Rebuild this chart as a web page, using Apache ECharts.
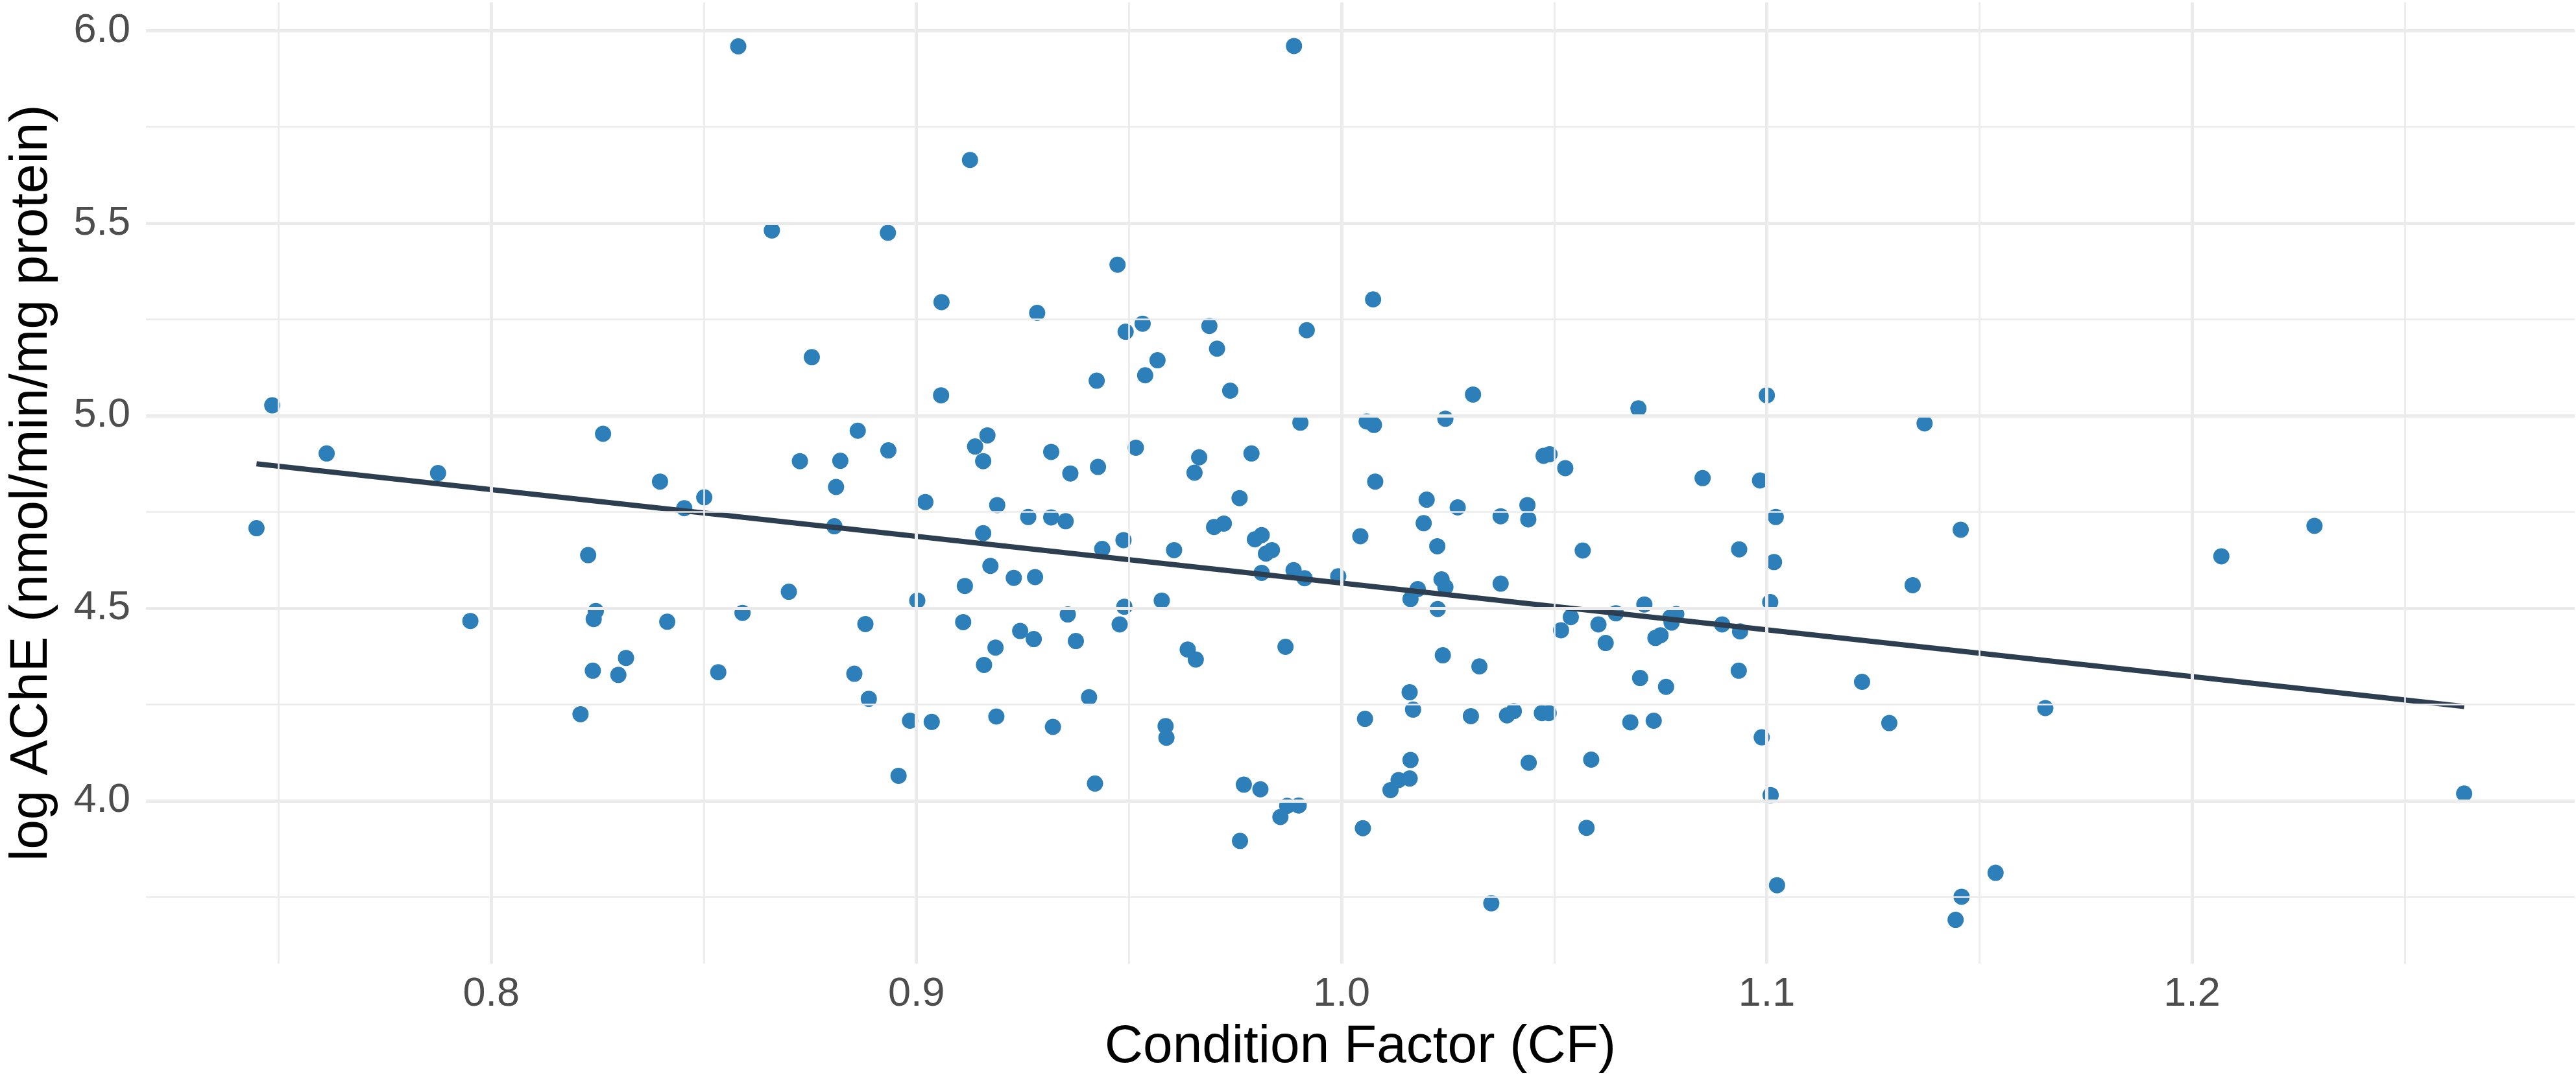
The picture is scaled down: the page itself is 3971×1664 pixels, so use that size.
<!DOCTYPE html>
<html>
<head>
<meta charset="utf-8">
<title>log AChE vs Condition Factor</title>
<script src="https://cdn.jsdelivr.net/npm/echarts@6.0.0/dist/echarts.min.js"></script>
<style>
  html, body { margin: 0; padding: 0; background: #fff; }
  #chart { width: 3971px; height: 1664px; }
</style>
</head>
<body>
<div id="chart"></div>
<script>
// condition factor (x) and log AChE (y)
const cf = [
  0.7485,0.7613,0.7875,0.8581,0.8660,0.8754,0.8263,0.8397,0.8726,0.8501,0.8454,0.7448,
  0.8228,0.8700,0.7951,0.8246,0.8241,0.8414,0.8591,0.8317,0.8239,0.8299,0.8534,0.8210,
  0.9888,0.9126,0.8933,0.9473,0.9059,0.9284,1.0074,0.9532,0.9492,0.9689,0.9918,0.9707,
  0.9567,0.9538,0.9424,0.9738,0.9058,0.9903,1.0059,1.0076,0.8862,0.9167,0.9138,0.8934,
  0.8821,0.9157,0.9317,0.9516,0.9665,0.9788,0.9427,
  0.9362,0.9654,1.0079,0.8811,0.9760,0.9021,0.9190,0.8807,0.9263,0.9317,0.9351,0.9157,
  0.9437,0.9487,0.9606,0.9700,0.9723,0.9796,0.9812,0.9822,0.9836,0.9812,0.9887,0.9913,
  0.9992,1.0044,0.9174,0.9229,0.9279,0.9114,0.9002,0.8880,0.9110,0.9244,0.9276,0.9186,
  0.9159,0.9356,0.9375,0.9489,0.9478,0.9577,0.9638,0.9657,0.9868,0.8854,0.8888,0.8985,
  0.9036,0.9188,0.9321,0.9406,0.9586,0.9588,0.8958,0.9420,0.9770,0.9809,0.9872,0.9899,
  0.9856,0.9761,1.0050,1.0055,1.0115,1.0134,
  1.0309,1.0244,1.0698,1.1000,1.1371,1.0475,1.0489,1.0526,
  1.0849,1.0984,1.0200,1.0273,1.0193,1.0374,1.0437,1.0439,1.0225,1.0567,1.0935,1.1021,
  1.1017,1.1456,1.1343,1.0235,1.0244,1.0179,1.0162,1.0374,1.0226,1.1008,1.0539,1.0516,
  1.0604,1.0645,1.0621,1.0712,1.0787,1.0776,1.0773,1.0738,1.0750,1.0895,1.0937,1.0238,
  1.0324,1.0702,1.0763,1.0934,1.1224,1.0160,1.0168,1.0304,1.0389,1.0405,1.0471,1.0487,
  1.0679,1.0734,1.0988,1.1288,1.0162,1.0440,1.0587,1.0160,1.1009,1.0576,1.1024,1.0352,
  1.1458,1.1444,1.1538,
  1.1655,1.2069,1.2288,1.2640
]
const ache = [
  5.027,4.902,4.851,5.959,5.481,5.152,4.953,4.829,4.882,4.788,4.760,4.708,
  4.638,4.543,4.467,4.493,4.472,4.465,4.488,4.371,4.338,4.327,4.334,4.225,
  5.960,5.664,5.475,5.392,5.295,5.267,5.302,5.239,5.218,5.233,5.222,5.174,
  5.144,5.105,5.091,5.065,5.053,4.982,4.985,4.976,4.961,4.949,4.920,4.910,
  4.883,4.882,4.906,4.917,4.892,4.902,4.867,
  4.850,4.852,4.829,4.815,4.786,4.776,4.768,4.713,4.737,4.736,4.726,4.695,
  4.654,4.677,4.651,4.711,4.720,4.679,4.690,4.642,4.651,4.592,4.599,4.578,
  4.583,4.687,4.610,4.579,4.581,4.558,4.520,4.459,4.464,4.441,4.420,4.398,
  4.353,4.484,4.415,4.504,4.458,4.520,4.393,4.367,4.400,4.330,4.265,4.208,
  4.205,4.219,4.192,4.269,4.194,4.164,4.065,4.045,4.042,4.030,3.987,3.988,
  3.958,3.896,3.929,4.213,4.028,4.054,
  5.055,4.992,5.019,5.053,4.980,4.896,4.900,4.864,
  4.838,4.832,4.782,4.762,4.721,4.739,4.768,4.731,4.661,4.650,4.653,4.737,
  4.620,4.704,4.560,4.575,4.555,4.550,4.524,4.564,4.498,4.516,4.477,4.443,
  4.458,4.487,4.410,4.510,4.485,4.463,4.476,4.423,4.430,4.458,4.440,4.378,
  4.349,4.319,4.296,4.338,4.309,4.282,4.237,4.220,4.222,4.233,4.228,4.228,
  4.204,4.208,4.165,4.202,4.106,4.099,4.107,4.058,4.015,3.930,3.781,3.734,
  3.751,3.691,3.813,
  4.241,4.635,4.714,4.019
]

// fitted line ends
const fitX = [0.7448, 1.2640]
const fitY = [4.875, 4.245]

// ticks and grid lines
const xLabels = [0.8, 0.9, 1.0, 1.1, 1.2]
const xMinor = [0.75, 0.85, 0.95, 1.05, 1.15, 1.25]
const yLabels = [4.0, 4.5, 5.0, 5.5, 6.0]
const yMinor = [3.75, 4.25, 4.75, 5.25, 5.75]

const FONT = '"Liberation Sans", Arial, Helvetica, sans-serif'
const GRID = '#EBEBEB'

const points = cf.map((x, i) => [x, ache[i]])
const fit = fitX.map((x, i) => [x, fitY[i]])

const gridLines = []
for (const v of xLabels) gridLines.push({xAxis: v, lineStyle: {width: 5}})
for (const v of xMinor) gridLines.push({xAxis: v, lineStyle: {width: 2.6}})
for (const v of yLabels) gridLines.push({yAxis: v, lineStyle: {width: 5}})
for (const v of yMinor) gridLines.push({yAxis: v, lineStyle: {width: 2.6}})

const chart = echarts.init(document.getElementById('chart'))
chart.setOption({
  animation: false,
  backgroundColor: '#fff',
  grid: {left: 209, right: 2, top: 3.5, bottom: 178, containLabel: false},
  xAxis: {
    type: 'value', min: 0.7188, max: 1.2900,
    name: 'Condition Factor (CF)', nameLocation: 'middle', nameGap: 129,
    nameTextStyle: {fontFamily: FONT, fontSize: 82, color: '#000', verticalAlign: 'middle', align: 'center'},
    axisLine: {show: false}, axisTick: {show: false}, splitLine: {show: false},
    axisLabel: {
      customValues: xLabels, margin: 48, verticalAlign: 'middle',
      fontFamily: FONT, fontSize: 63, color: '#4D4D4D',
      formatter: v => v.toFixed(1)
    }
  },
  yAxis: {
    type: 'value', min: 3.5775, max: 6.0735,
    name: 'log AChE (nmol/min/mg protein)', nameLocation: 'middle', nameGap: 176, nameRotate: 90,
    nameTextStyle: {fontFamily: FONT, fontSize: 82, color: '#000', verticalAlign: 'middle', align: 'center'},
    axisLine: {show: false}, axisTick: {show: false}, splitLine: {show: false},
    axisLabel: {
      customValues: yLabels, margin: 24,
      fontFamily: FONT, fontSize: 63, color: '#4D4D4D',
      formatter: v => v.toFixed(1)
    }
  },
  series: [
    {
      type: 'line', data: [], silent: true, z: 0,
      markLine: {
        silent: true, symbol: ['none', 'none'], animation: false,
        label: {show: false},
        lineStyle: {color: GRID, type: 'solid'},
        emphasis: {disabled: true},
        data: gridLines
      }
    },
    {
      type: 'scatter', data: points, symbol: 'circle', symbolSize: 25, z: 2,
      itemStyle: {color: '#2C7FB8', opacity: 1}
    },
    {
      type: 'line', data: fit, symbol: 'none', z: 3,
      lineStyle: {color: '#2C3E50', width: 8}
    }
  ]
})
</script>
</body>
</html>
